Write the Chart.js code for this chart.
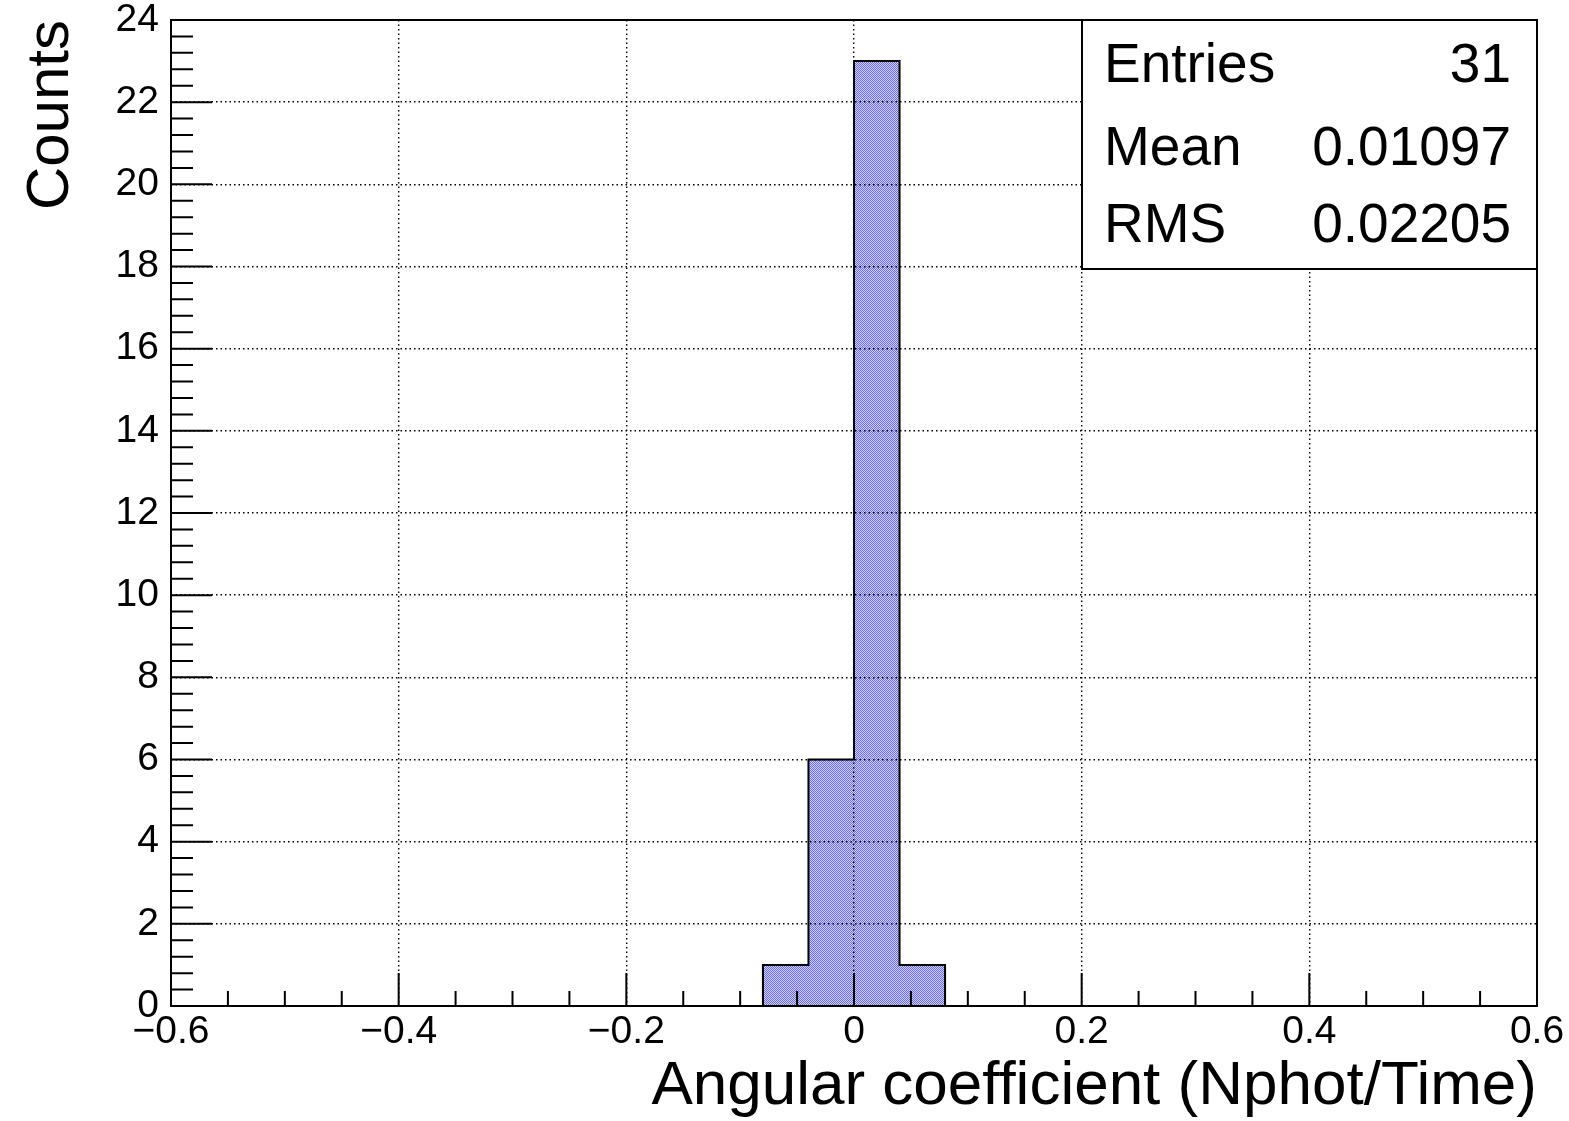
<!DOCTYPE html>
<html>
<head>
<meta charset="utf-8">
<script src="https://cdn.jsdelivr.net/npm/chart.js@4.4.1/dist/chart.umd.min.js"></script>
<style>
html,body{margin:0;padding:0;background:#fff;}
#wrap{width:1569px;height:1121px;position:relative;}
</style>
</head>
<body>
<div id="wrap"><canvas id="histChart"></canvas></div>
<script>
// histogram data
const binEdges = [-0.08, -0.04, 0, 0.04, 0.08];
const counts = [1, 6, 23, 1];

// axis ticks
const xTickValues = [-0.6, -0.4, -0.2, 0, 0.2, 0.4, 0.6];
const yTickValues = [0, 2, 4, 6, 8, 10, 12, 14, 16, 18, 20, 22, 24];
const xMinorStep = 0.05;
const yMinorStep = 0.4;

// stats box
const statLabels = ["Entries", "Mean", "RMS"];
const statValues = ["31", "0.01097", "0.02205"];

const FONT = "'Liberation Sans', Arial, Helvetica, sans-serif";

function makePattern(){
  let c = document.createElement("canvas");
  c.width = 2; c.height = 2;
  let g = c.getContext("2d");
  g.fillStyle = "#d0d0f8";
  g.fillRect(0,0,2,2);
  g.fillStyle = "#6c6ce2";
  g.fillRect(0,0,1,1);
  g.fillRect(1,1,1,1);
  return g.createPattern(c,"repeat");
}

let barPoints = [];
for(let i=0;i<counts.length;i++){
  barPoints.push({x:(binEdges[i]+binEdges[i+1])/2, y:counts[i]});
}

// step outline of the histogram
let outline = [{x:binEdges[0], y:0}];
for(let i=0;i<counts.length;i++){
  outline.push({x:binEdges[i], y:counts[i]});
}
outline.push({x:binEdges[binEdges.length-1], y:0});

function fmt(v){
  let s = String(Math.round(v*10)/10);
  if(v < 0) s = "\u2212" + s.substring(1);
  return s;
}

// frame, inner ticks and stat box, the ROOT way
const rootDecor = {
  id:"rootDecor",
  afterDraw(chart){
    let ctx = chart.ctx;
    let a = chart.chartArea;
    let xs = chart.scales.x;
    let ys = chart.scales.y;
    ctx.save();
    ctx.strokeStyle = "#000";
    ctx.lineWidth = 2;

    ctx.beginPath();
    let n = Math.round((xs.max - xs.min)/xMinorStep);
    for(let i=0;i<=n;i++){
      let v = xs.min + i*xMinorStep;
      let px = xs.getPixelForValue(v);
      let major = xTickValues.some(t => Math.abs(t-v) < 1e-6);
      ctx.moveTo(px, a.bottom);
      ctx.lineTo(px, a.bottom - (major ? 33 : 15));
    }
    n = Math.round((ys.max - ys.min)/yMinorStep);
    for(let i=0;i<=n;i++){
      let v = ys.min + i*yMinorStep;
      let py = ys.getPixelForValue(v);
      let major = yTickValues.some(t => Math.abs(t-v) < 1e-6);
      ctx.moveTo(a.left, py);
      ctx.lineTo(a.left + (major ? 41 : 22), py);
    }
    ctx.stroke();

    ctx.strokeRect(a.left, a.top, a.right - a.left, a.bottom - a.top);

    // stat box
    let bx = 1082, by = a.top, bw = a.right - bx, bh = 249;
    ctx.fillStyle = "#fff";
    ctx.fillRect(bx, by, bw, bh);
    ctx.strokeRect(bx, by, bw, bh);
    ctx.fillStyle = "#000";
    ctx.font = "55px " + FONT;
    ctx.textBaseline = "alphabetic";
    let baselines = [82, 165, 242];
    for(let i=0;i<statLabels.length;i++){
      ctx.textAlign = "left";
      ctx.fillText(statLabels[i], bx + 22, baselines[i]);
      ctx.textAlign = "right";
      ctx.fillText(statValues[i], a.right - 26, baselines[i]);
    }
    ctx.restore();
  }
};

new Chart(document.getElementById("histChart"),{
  type:"bar",
  data:{
    datasets:[
      {
        type:"line",
        data:outline,
        stepped:"before",
        borderColor:"#000",
        borderWidth:2,
        pointRadius:0,
        fill:false,
        order:0
      },
      {
        data:barPoints,
        backgroundColor:makePattern(),
        borderWidth:0,
        inflateAmount:0.5,
        barPercentage:1,
        categoryPercentage:1,
        order:1
      }
    ]
  },
  options:{
    responsive:true,
    maintainAspectRatio:false,
    animation:false,
    layout:{padding:{top:20, right:32, left:0, bottom:0}},
    plugins:{legend:{display:false}, tooltip:{enabled:false}},
    scales:{
      x:{
        type:"linear",
        min:-0.6,
        max:0.6,
        offset:false,
        afterBuildTicks:(s)=>{ s.ticks = xTickValues.map(v=>({value:v})); },
        afterFit:(s)=>{ s.height = 115; },
        ticks:{
          autoSkip:false,
          maxRotation:0,
          padding:0,
          color:"#000",
          font:{family:FONT, size:39, lineHeight:1},
          callback:(v)=>fmt(v)
        },
        grid:{color:"#000", lineWidth:1.4, offset:false, drawTicks:true, tickLength:7, tickColor:"rgba(0,0,0,0)", z:1},
        border:{display:false, dash:[1.5,3]},
        title:{
          display:true,
          text:"Angular coefficient (Nphot/Time)",
          align:"end",
          color:"#000",
          font:{family:FONT, size:62, lineHeight:1.1},
          padding:{top:0, bottom:0}
        }
      },
      y:{
        min:0,
        max:24,
        afterBuildTicks:(s)=>{ s.ticks = yTickValues.map(v=>({value:v})); },
        afterFit:(s)=>{ s.width = 171; },
        ticks:{
          autoSkip:false,
          padding:0,
          color:"#000",
          font:{family:FONT, size:39, lineHeight:1},
          callback:(v)=>fmt(v)
        },
        grid:{color:"#000", lineWidth:1.4, offset:false, drawTicks:true, tickLength:12, tickColor:"rgba(0,0,0,0)", z:1},
        border:{display:false, dash:[1.5,3]},
        title:{
          display:true,
          text:"Counts",
          align:"end",
          color:"#000",
          font:{family:FONT, size:60},
          padding:{top:15, bottom:0}
        }
      }
    }
  },
  plugins:[rootDecor]
});
</script>
</body>
</html>
